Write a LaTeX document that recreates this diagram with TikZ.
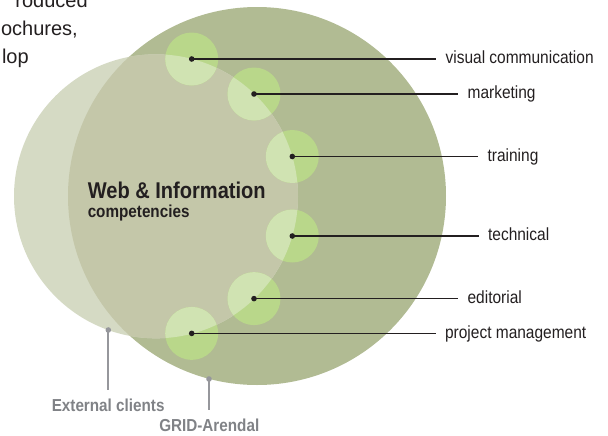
\documentclass[tikz,border=0pt]{standalone}
\usepackage{fontspec}
\setmainfont{Liberation Sans}
\newfontfamily\condfont[FakeStretch=0.88]{Liberation Sans}
\definecolor{bigc}{RGB}{177,187,147}
\definecolor{lightc}{RGB}{213,218,196}
\definecolor{overc}{RGB}{196,199,169}
\definecolor{greenc}{RGB}{185,215,138}
\definecolor{lgreenc}{RGB}{208,227,178}
\definecolor{inkc}{RGB}{35,31,32}
\definecolor{greyc}{RGB}{128,130,134}
\definecolor{greylinec}{RGB}{150,151,156}
\tikzset{
  dotc/.style={circle,fill=inkc,inner sep=0pt,minimum size=4.2pt},
  greydot/.style={circle,fill=greylinec,inner sep=0pt,minimum size=4.2pt},
  lab/.style={anchor=west,font=\condfont\fontsize{13.2pt}{15pt}\selectfont,text=inkc,
              inner xsep=7pt,inner ysep=0pt,text height=6.9pt,text depth=0pt},
  leader/.style={draw=inkc,line width=1.1pt},
  greyleader/.style={draw=greylinec,line width=1.3pt},
  bottomlab/.style={anchor=base west,inner sep=0pt,text=greyc,
              font=\condfont\bfseries\fontsize{13pt}{15pt}\selectfont},
  titlelab/.style={anchor=base west,inner sep=0pt,text=inkc},
  fraglab/.style={anchor=base east,inner sep=0pt,text=inkc,font=\fontsize{15pt}{18pt}\selectfont}
}
\begin{document}
\begin{tikzpicture}[x=0.75pt,y=0.75pt]
\useasboundingbox (0,0) rectangle (608,-436);
% top-left text fragments
\node[fraglab] (f1) at (88,-7) {roduced};
\node[fraglab] (f2) at (78,-35) {ochures,};
\node[fraglab] (f3) at (29,-63) {lop};
% circles
\fill[bigc] (257,-196) circle (189);
\fill[lightc] (156,-196.3) circle (142);
\begin{scope}
  \clip (156,-196.3) circle (142);
  \fill[overc] (257,-196) circle (189);
\end{scope}
% small circles
\foreach \px/\py in {191.7/59, 254/94, 292.3/156.5, 292.3/236, 254/298.6, 191.7/333.4}{
  \fill[greenc] (\px,-\py) circle (26.5);
  \begin{scope}
    \clip (156,-196.3) circle (142);
    \fill[lgreenc] (\px,-\py) circle (26.5);
  \end{scope}
}
% title
\node[titlelab,font=\condfont\bfseries\fontsize{17.1pt}{20pt}\selectfont] (t1) at (87.5,-198) {Web \& Information};
\node[titlelab,font=\condfont\bfseries\fontsize{13pt}{15pt}\selectfont] (t2) at (87.5,-217) {competencies};
% dots and labels
\node[dotc] (d1) at (191.7,-59) {};
\node[dotc] (d2) at (254,-94) {};
\node[dotc] (d3) at (292.3,-156.5) {};
\node[dotc] (d4) at (292.3,-236) {};
\node[dotc] (d5) at (254,-298.6) {};
\node[dotc] (d6) at (191.7,-333.4) {};
\node[lab] (l1) at (436,-59) {visual communication};
\node[lab] (l2) at (458,-94) {marketing};
\node[lab] (l3) at (478,-156.5) {training};
\node[lab] (l4) at (478.5,-236) {technical};
\node[lab] (l5) at (458,-298.6) {editorial};
\node[lab] (l6) at (435.5,-333.4) {project management};
\foreach \i in {1,...,6}{\draw[leader] (d\i.center) -- (l\i.west);}
% bottom labels
\node[greydot] (ed) at (108.3,-330) {};
\coordinate (ee) at (108.3,-390);
\node[bottomlab] (ext) at (51.5,-411) {External clients};
\draw[greyleader] (ed.center) -- (ee);
\node[greydot] (gd) at (209,-379) {};
\coordinate (ge) at (209,-410);
\node[bottomlab] (grid) at (159,-431.7) {GRID-Arendal};
\draw[greyleader] (gd.center) -- (ge);
\end{tikzpicture}
\end{document}
